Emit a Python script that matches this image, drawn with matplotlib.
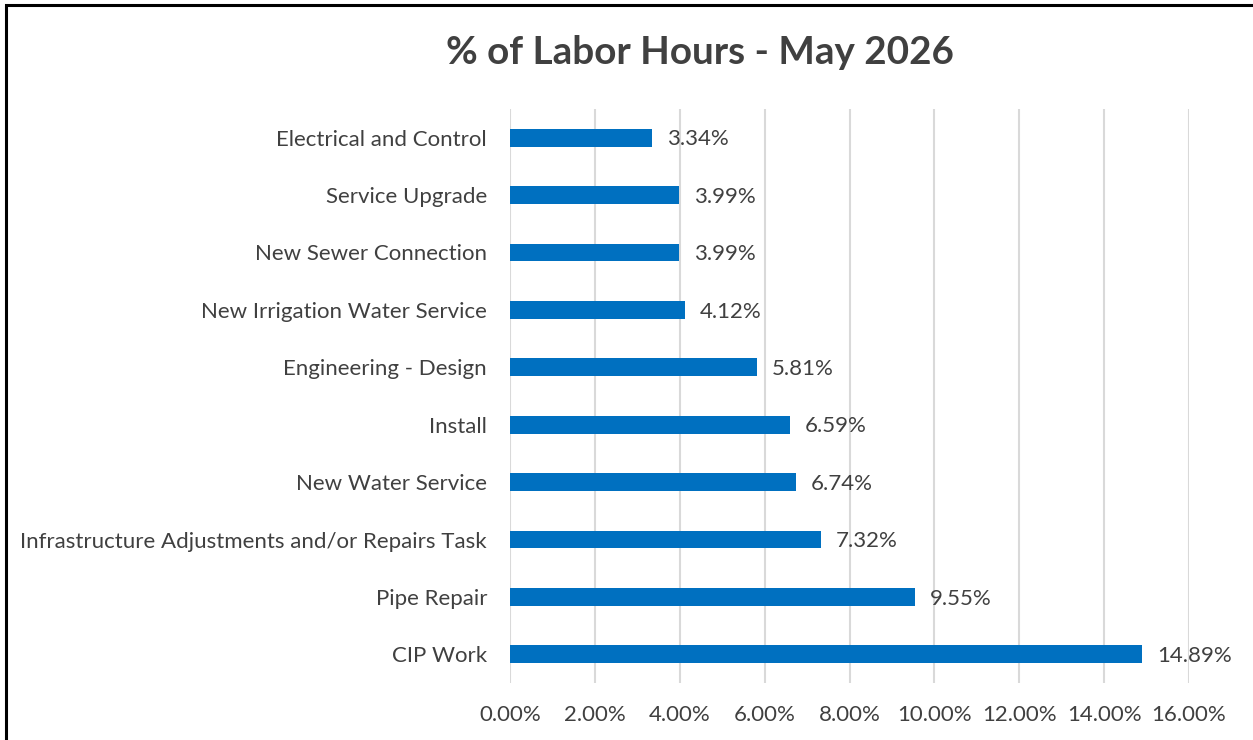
import matplotlib
matplotlib.use("Agg")
import matplotlib.pyplot as plt
from matplotlib.patches import Rectangle
from matplotlib.ticker import FuncFormatter, MultipleLocator

categories = ["CIP Work", "Pipe Repair", "Infrastructure Adjustments and/or Repairs Task",
              "New Water Service", "Install", "Engineering - Design",
              "New Irrigation Water Service", "New Sewer Connection", "Service Upgrade",
              "Electrical and Control"]
values = [14.89, 9.55, 7.32, 6.74, 6.59, 5.81, 4.12, 3.99, 3.99, 3.34]
title = "% of Labor Hours - May 2026"

plt.rcParams['font.family'] = ['Lato', 'DejaVu Sans']
TXT = "#404040"
fig = plt.figure(figsize=(12.53, 7.40), dpi=100)
ax = fig.add_axes([510/1253, 1-683/740, (1189-510)/1253, (683-109)/740])

y = list(range(len(categories)))
ax.barh(y, values, height=0.31, color="#0070C0", zorder=3)
for yi, v in zip(y, values):
    ax.text(v + 0.35, yi - 0.03, f"{v:.2f}%", va="center", ha="left", fontsize=16, color=TXT)

ax.set_xlim(0, 16)
ax.set_ylim(-0.5, len(categories) - 0.5)
ax.xaxis.set_major_locator(MultipleLocator(2))
ax.xaxis.set_major_formatter(FuncFormatter(lambda x, p: f"{x:.2f}%"))
ax.set_yticks(y)
ax.set_yticklabels(categories)
ax.tick_params(axis='both', length=0, labelsize=16, labelcolor=TXT)
ax.tick_params(axis='y', pad=16.5)
ax.tick_params(axis='x', pad=16)
ax.grid(axis='x', color="#D9D9D9", linewidth=1.5, zorder=0)
for s in ax.spines.values():
    s.set_visible(False)

fig.text(700/1253, 1-53/740, title, ha="center", va="center", fontsize=27.8, fontweight="bold", color=TXT)
fig.patches.append(Rectangle((6/1253, -0.1), 1.2, 1 - 5/740 + 0.1, transform=fig.transFigure,
                             fill=False, edgecolor="black", linewidth=2.2))
fig.savefig("out.png", dpi=100)
